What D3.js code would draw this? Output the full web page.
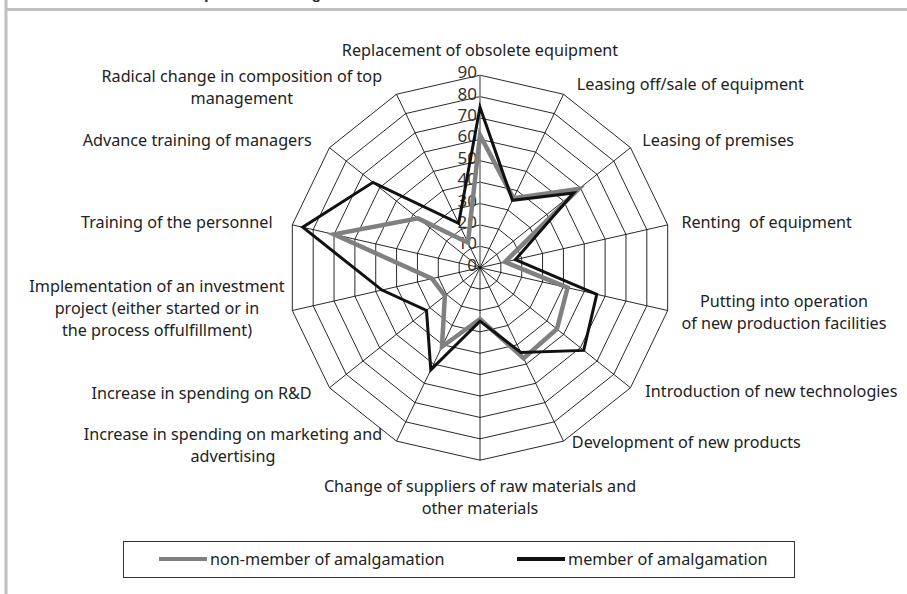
<!DOCTYPE html>
<html>
<head>
<meta charset="utf-8">
<script src="https://cdn.jsdelivr.net/npm/d3@7"></script>
<style>
  body { margin: 0; background: #fff; }
  text { font-family: "Noto Sans", "DejaVu Sans", sans-serif; fill: #222; white-space: pre; }
</style>
</head>
<body>
<div id="chart"></div>
<script>
// chart data, clockwise from the top
var categories = [
  "Replacement of obsolete equipment",
  "Leasing off/sale of equipment",
  "Leasing of premises",
  "Renting  of equipment",
  "Putting into operation\nof new production facilities",
  "Introduction of new technologies",
  "Development of new products",
  "Change of suppliers of raw materials and\nother materials",
  "Increase in spending on marketing and\nadvertising",
  "Increase in spending on R&D",
  "Implementation of an investment\nproject (either started or in\nthe process offulfillment)",
  "Training of the personnel",
  "Advance training of managers",
  "Radical change in composition of top\nmanagement"
];
var nonMember = [62, 36, 59, 12, 42, 46, 47, 24, 41, 21, 23, 70, 37, 13];
var member    = [75, 35, 56, 17, 56, 62, 44, 25, 53, 32, 47, 85, 64, 23];
var seriesNames = ["non-member of amalgamation", "member of amalgamation"];
var ticks = [0, 10, 20, 30, 40, 50, 60, 70, 80, 90];

var WIDTH = 907, HEIGHT = 594;
var cx = 480, cy = 267.7, R = 192.5;
var n = categories.length;
var FS = "16.2px";

var svg = d3.select("#chart").append("svg")
  .attr("width", WIDTH)
  .attr("height", HEIGHT);

// frame lines of the page this was cut from (title is cropped above)
svg.append("text")
  .attr("x", 110).attr("y", -1)
  .style("font-family", "Liberation Sans, Arial, sans-serif")
  .style("font-weight", "bold").style("font-size", "15px")
  .text("Forms of adaptation to changes in the market");
svg.append("line").attr("x1", 5).attr("x2", WIDTH).attr("y1", 9.5).attr("y2", 9.5)
  .attr("stroke", "#c0c0c0").attr("stroke-width", 3);
svg.append("line").attr("x1", 6).attr("x2", 6).attr("y1", 0).attr("y2", HEIGHT)
  .attr("stroke", "#c0c0c0").attr("stroke-width", 3);

var r = d3.scaleLinear().domain([0, 90]).range([0, R]);
var angle = function (i) { return i * 2 * Math.PI / n; };
var px = function (i, v) { return cx + r(v) * Math.sin(angle(i)); };
var py = function (i, v) { return cy - r(v) * Math.cos(angle(i)); };

var g = svg.append("g");

// rings
ticks.slice(1).forEach(function (t) {
  var pts = d3.range(n).map(function (i) { return [px(i, t), py(i, t)]; });
  g.append("polygon")
    .attr("points", pts.map(function (p) { return p.join(","); }).join(" "))
    .attr("fill", "none").attr("stroke", "#111").attr("stroke-width", 0.9);
});

// spokes
d3.range(n).forEach(function (i) {
  g.append("line")
    .attr("x1", cx).attr("y1", cy)
    .attr("x2", px(i, 90)).attr("y2", py(i, 90))
    .attr("stroke", i === 0 ? "#808080" : "#111")
    .attr("stroke-width", i === 0 ? 1.6 : 0.9);
});

// tick labels on the top axis
g.selectAll(".tick").data(ticks).enter().append("text")
  .attr("x", cx - 3)
  .attr("y", function (d) { return cy - r(d) + 3; })
  .attr("text-anchor", "end")
  .style("font-size", "17px")
  .style("fill", "#333")
  .text(function (d) { return d; });

// series
var line = d3.line()
  .x(function (d) { return px(d.i, d.v); })
  .y(function (d) { return py(d.i, d.v); })
  .curve(d3.curveLinearClosed);

var toPts = function (arr) { return arr.map(function (v, i) { return { i: i, v: v }; }); };

g.append("path").attr("d", line(toPts(nonMember)))
  .attr("fill", "none").attr("stroke", "#808080").attr("stroke-width", 4.5);
g.append("path").attr("d", line(toPts(member)))
  .attr("fill", "none").attr("stroke", "#111").attr("stroke-width", 3);

// category labels
var nudge = { 1: [5, 0], 5: [3, -2], 6: [0, -7], 8: [0, -4], 10: [12, -4], 13: [0, 3] };
var LH = 22;
categories.forEach(function (lbl, i) {
  var lines = lbl.split("\n");
  var s = Math.sin(angle(i)), c = Math.cos(angle(i));
  var ax = cx + (R + 10) * s, ay = cy - (R + 10) * c;
  var t = svg.append("text").style("font-size", FS).attr("text-anchor", "middle");
  lines.forEach(function (l, k) {
    t.append("tspan").attr("dy", k === 0 ? 0 : LH).text(l);
  });
  var w = d3.max(t.selectAll("tspan").nodes(), function (nd) { return nd.getComputedTextLength(); });
  var h = lines.length * LH;
  var bx, by; // box centre
  if (Math.abs(s) < 0.05) {
    bx = ax;
    by = c > 0 ? ay - 3 - h / 2 : ay + 6 + h / 2;
  } else if (s > 0) {
    bx = ax + 4 + w / 2; by = ay;
  } else {
    bx = ax - 10 - w / 2; by = ay;
  }
  var nd = nudge[i] || [0, 0];
  bx += nd[0]; by += nd[1];
  var y0 = by - h / 2 + LH / 2 + 5;
  t.attr("y", y0);
  t.selectAll("tspan").attr("x", bx);
});

// legend
var leg = svg.append("g");
leg.append("rect").attr("x", 123.5).attr("y", 541.5).attr("width", 671).attr("height", 36)
  .attr("fill", "#fff").attr("stroke", "#333").attr("stroke-width", 1);
var legItems = [
  { name: seriesNames[0], color: "#808080", x: 159 },
  { name: seriesNames[1], color: "#111", x: 517 }
];
legItems.forEach(function (d) {
  leg.append("line").attr("x1", d.x).attr("x2", d.x + 48).attr("y1", 559).attr("y2", 559)
    .attr("stroke", d.color).attr("stroke-width", 4);
  leg.append("text").attr("x", d.x + 51).attr("y", 565)
    .style("font-size", FS).text(d.name);
});
</script>
</body>
</html>
